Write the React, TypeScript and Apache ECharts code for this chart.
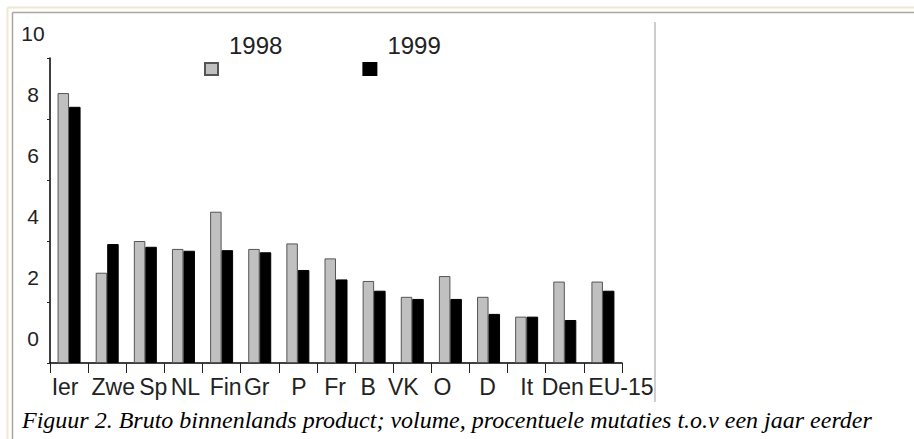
import React, { useEffect, useRef } from "react";
import * as echarts from "echarts";

const categories = ["Ier", "Zwe", "Sp", "NL", "Fin", "Gr", "P", "Fr", "B", "VK", "O", "D", "It", "Den", "EU-15"];
const values1998 = [8.85, 2.96, 4.0, 3.74, 4.96, 3.74, 3.92, 3.43, 2.69, 2.17, 2.85, 2.17, 1.52, 2.67, 2.67];
const values1999 = [8.4, 3.9, 3.81, 3.68, 3.7, 3.63, 3.05, 2.74, 2.37, 2.1, 2.1, 1.61, 1.52, 1.41, 2.37];
const seriesNames = ["1998", "1999"];
const yTicks = { min: 0, max: 10, interval: 2 };
const caption = "Figuur 2. Bruto binnenlands product; volume, procentuele mutaties t.o.v een jaar eerder";

export default function App() {
  const ref = useRef<HTMLDivElement>(null);
  useEffect(() => {
    if (!ref.current) return;
    const chart = echarts.init(ref.current, null, { renderer: "svg" });
    const sans = "'Liberation Sans', Arial, sans-serif";
    // horizontal nudges of the category labels, as in the scanned original
    const labelShift = [-4, 6, 8, 2, 4, -3, 1, -1, -6, -9, -8, -1, 0, -2, 18];
    const xRich: Record<string, any> = {};
    labelShift.forEach((s, i) => {
      xRich["l" + i] = {
        fontFamily: sans,
        fontSize: 23,
        color: "#222",
        padding: s >= 0 ? [0, 0, 0, 2 * s] : [0, -2 * s, 0, 0],
      };
    });
    chart.setOption({
      animation: false,
      backgroundColor: "#ffffff",
      title: {
        text: caption,
        left: 22,
        top: 408,
        padding: 0,
        textStyle: {
          fontFamily: "'Liberation Serif', 'Times New Roman', serif",
          fontStyle: "italic",
          fontWeight: "normal",
          fontSize: 24,
          color: "#000",
        },
      },
      legend: {
        left: 204,
        top: 33,
        padding: 0,
        itemWidth: 13,
        itemHeight: 12,
        itemGap: 80,
        icon: "rect",
        data: seriesNames,
        formatter: (name: string) => "{t|" + name + "}",
        textStyle: {
          fontFamily: sans,
          fontSize: 24,
          color: "#222",
          rich: {
            t: { fontFamily: sans, fontSize: 24, color: "#222", padding: [0, 0, 48, 6] },
          },
        },
      },
      grid: { left: 50, right: 292, top: 58, bottom: 76, containLabel: false },
      xAxis: {
        type: "category",
        data: categories,
        boundaryGap: true,
        axisLine: { lineStyle: { color: "#000", width: 1.5 } },
        axisTick: { show: true, length: 10, alignWithLabel: false, lineStyle: { color: "#222" } },
        axisLabel: {
          fontFamily: sans,
          fontSize: 23,
          color: "#222",
          margin: 12,
          interval: 0,
          formatter: (value: string, index: number) => "{l" + index + "|" + value + "}",
          rich: xRich,
        },
        splitLine: { show: false },
      },
      yAxis: {
        type: "value",
        min: yTicks.min,
        max: yTicks.max,
        interval: yTicks.interval,
        axisLine: { show: true, lineStyle: { color: "#000", width: 1.5 } },
        axisTick: { show: true, length: 3, lineStyle: { color: "#222" } },
        axisLabel: {
          fontFamily: sans,
          fontSize: 21,
          color: "#222",
          align: "center",
          margin: 17,
          formatter: "{v|{value}}",
          rich: {
            v: { fontFamily: sans, fontSize: 21, color: "#222", padding: [0, 0, 50, 0] },
          },
        },
        splitLine: { show: false },
      },
      series: [
        {
          name: seriesNames[0],
          type: "bar",
          data: values1998,
          barWidth: 11.5,
          barGap: "0%",
          itemStyle: { color: "#c0c0c0", borderColor: "#555", borderWidth: 1 },
        },
        {
          name: seriesNames[1],
          type: "bar",
          data: values1999,
          barWidth: 11.5,
          barGap: "0%",
          itemStyle: { color: "#000", borderColor: "#000", borderWidth: 1 },
        },
      ],
      graphic: [
        { type: "line", shape: { x1: 7.5, y1: 7.5, x2: 914, y2: 7.5 }, style: { stroke: "#efe8d4", lineWidth: 2 }, silent: true },
        { type: "line", shape: { x1: 7.5, y1: 7.5, x2: 7.5, y2: 439 }, style: { stroke: "#efe8d4", lineWidth: 2 }, silent: true },
        { type: "line", shape: { x1: 12.5, y1: 12.5, x2: 914, y2: 12.5 }, style: { stroke: "#aaa69a", lineWidth: 1.5 }, silent: true },
        { type: "line", shape: { x1: 12.5, y1: 12.5, x2: 12.5, y2: 439 }, style: { stroke: "#aaa69a", lineWidth: 1.5 }, silent: true },
        { type: "line", shape: { x1: 655, y1: 22, x2: 655, y2: 402 }, style: { stroke: "#bdbdbd", lineWidth: 1.5 }, silent: true },
      ],
    });
    return () => chart.dispose();
  }, []);
  return (
    <div
      ref={ref}
      style={{ position: "absolute", left: 0, top: 0, width: 914, height: 439 }}
    />
  );
}
